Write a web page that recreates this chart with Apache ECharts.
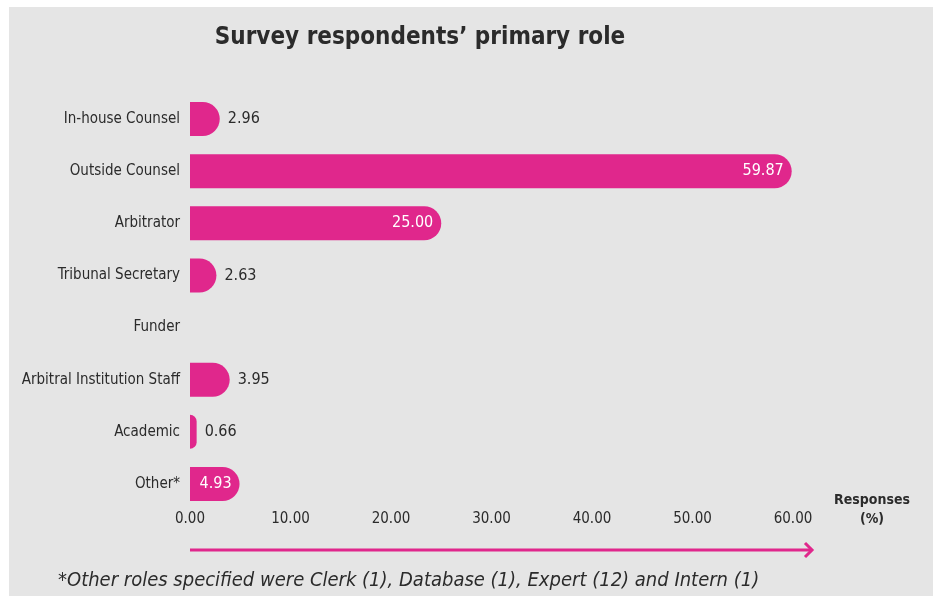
<!DOCTYPE html>
<html>
<head>
<meta charset="utf-8">
<script src="https://cdn.jsdelivr.net/npm/echarts@6/dist/echarts.min.js"></script>
<style>
  html, body { margin: 0; padding: 0; background: #ffffff; }
  #chart { width: 940px; height: 596px; }
</style>
</head>
<body>
<div id="chart"></div>
<script>
// Survey respondents by primary role, share of responses (%)
const roles = [
  'In-house Counsel',
  'Outside Counsel',
  'Arbitrator',
  'Tribunal Secretary',
  'Funder',
  'Arbitral Institution Staff',
  'Academic',
  'Other*'
];
const shares = [2.96, 59.87, 25.00, 2.63, 0, 3.95, 0.66, 4.93];
// values printed inside the bar (white) rather than beside it
const insideLabel = [false, true, true, false, false, false, false, true];
const xTicks = [0, 10, 20, 30, 40, 50, 60];

const PINK = '#e0278c';
const FONT = '"Liberation Sans Narrow", "DejaVu Sans Condensed", sans-serif';

const chart = echarts.init(document.getElementById('chart'), null, { renderer: 'canvas' });

const barData = shares.map((v, i) => ({
  value: v,
  label: v === 0 ? { show: false } : (insideLabel[i]
    ? { position: 'insideRight', color: '#ffffff', distance: 8 }
    : { position: 'right', color: '#2b2b2b', distance: 8 })
}));

chart.setOption({
  backgroundColor: 'transparent',
  animation: false,
  textStyle: { fontFamily: FONT },
  title: {
    text: 'Survey respondents\u2019 primary role',
    left: 415,
    textAlign: 'center',
    top: 21,
    textStyle: { fontFamily: FONT, fontSize: 24, fontWeight: 'bold', color: '#2b2b2b' }
  },
  graphic: [
    { type: 'rect', z: -10, shape: { x: 9, y: 7, width: 924, height: 589 }, style: { fill: '#e5e5e5' } },
    { type: 'line', shape: { x1: 190, y1: 550, x2: 812, y2: 550 }, style: { stroke: PINK, lineWidth: 3 } },
    { type: 'polyline', shape: { points: [[805, 543], [812, 550], [805, 557]] }, style: { stroke: PINK, lineWidth: 3, fill: null } },
    {
      type: 'text', left: 58, top: 571,
      style: {
        text: '*Other roles specified were Clerk (1), Database (1), Expert (12) and Intern (1)',
        font: 'italic 20px ' + FONT, fill: '#2b2b2b'
      }
    }
  ],
  grid: { left: 190, right: 147, top: 93, bottom: 86, containLabel: false },
  xAxis: {
    type: 'value',
    min: 0, max: 60, interval: 10,
    axisLine: { show: false },
    axisTick: { show: false },
    splitLine: { show: false },
    axisLabel: {
      margin: 2, fontSize: 15, color: '#2b2b2b', fontFamily: FONT,
      formatter: v => xTicks.includes(v) ? v.toFixed(2) : ''
    },
    name: 'Responses\n(%)',
    nameLocation: 'end',
    nameGap: 79,
    nameTextStyle: { fontFamily: FONT, fontSize: 14, fontWeight: 'bold', color: '#2b2b2b', align: 'center', lineHeight: 19, verticalAlign: 'middle' }
  },
  yAxis: {
    type: 'category',
    data: roles,
    inverse: true,
    axisLine: { show: false },
    axisTick: { show: false },
    splitLine: { show: false },
    axisLabel: { margin: 10, fontSize: 15, color: '#2b2b2b', fontFamily: FONT }
  },
  series: [{
    type: 'bar',
    data: barData,
    barWidth: 34,
    itemStyle: { color: PINK, borderRadius: [0, 17, 17, 0] },
    label: {
      show: true,
      fontSize: 16,
      fontFamily: FONT,
      formatter: p => p.value.toFixed(2)
    }
  }]
});
</script>
</body>
</html>
